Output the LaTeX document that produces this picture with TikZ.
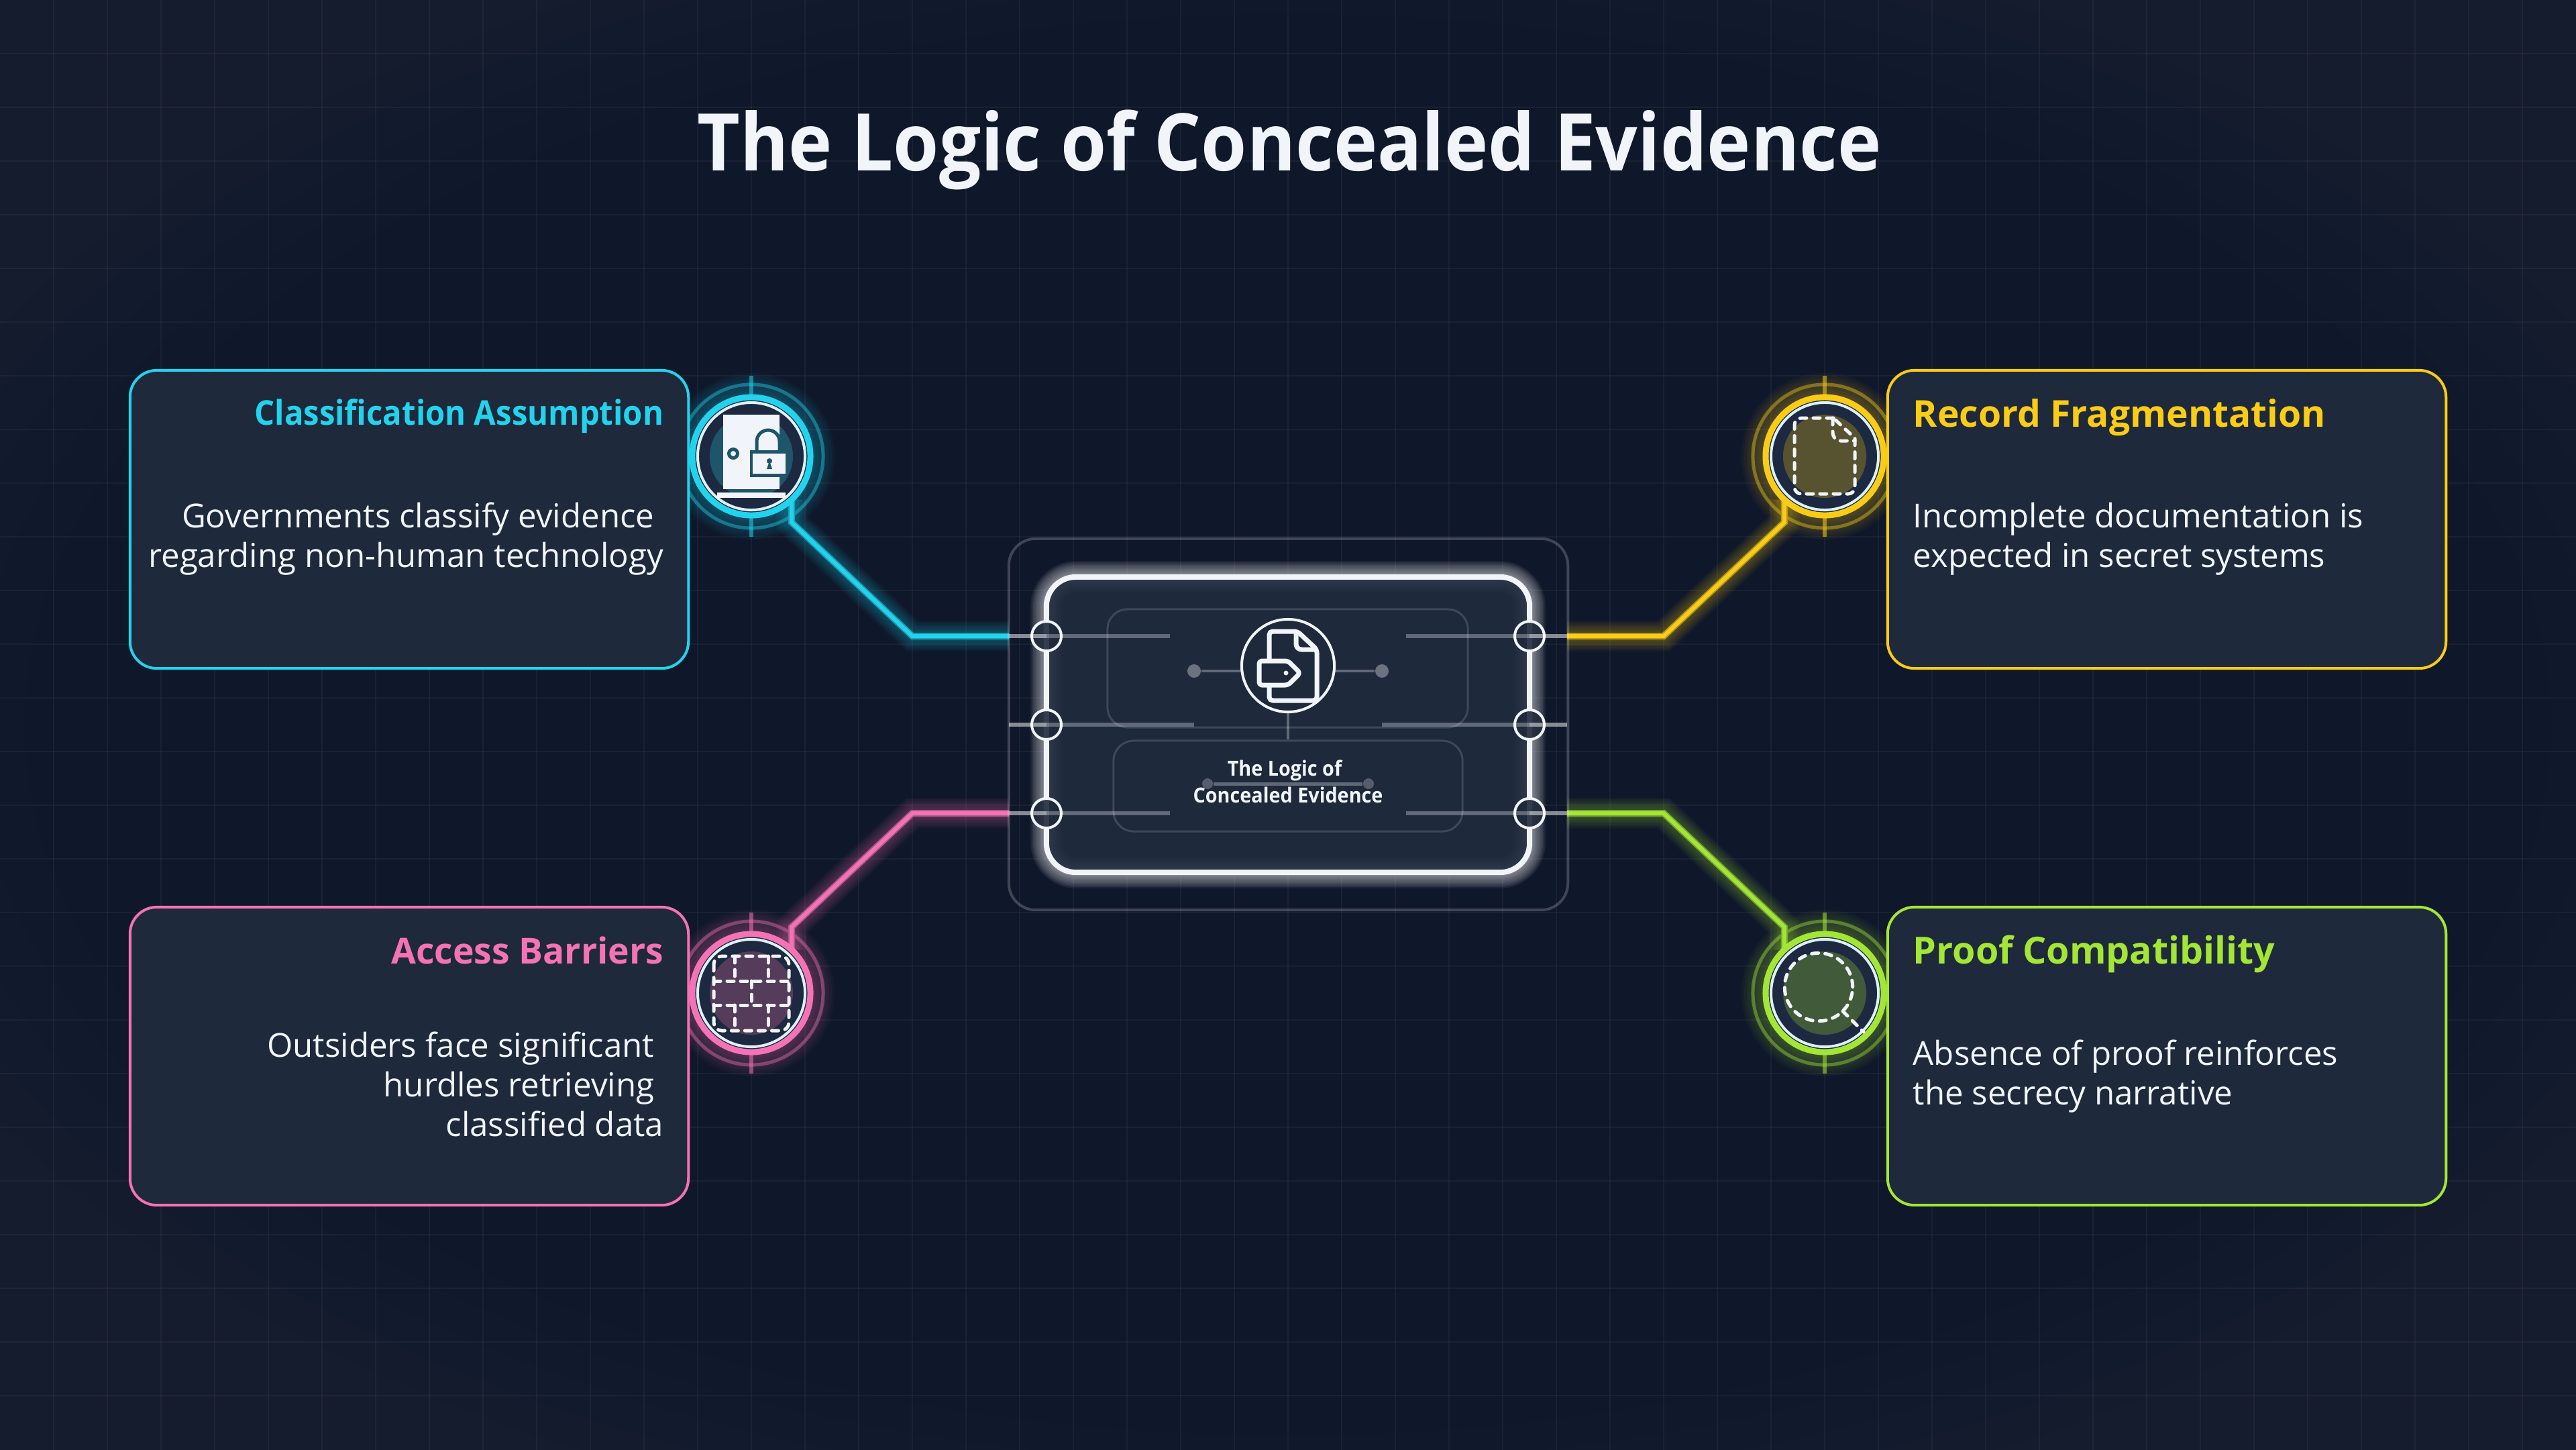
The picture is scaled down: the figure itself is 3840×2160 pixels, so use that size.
\documentclass[tikz,border=0pt]{standalone}
\usepackage{fontspec}
\setmainfont{Open Sans}
\newfontfamily\headfont{Open Sans}[FakeStretch=0.93]
\usetikzlibrary{calc, positioning}

\definecolor{pagebg}{HTML}{0F172A}
\definecolor{cornerbg}{HTML}{1E2536}
\definecolor{panelbg}{HTML}{1E293B}
\definecolor{ringbg}{HTML}{1C2940}
\definecolor{paper}{HTML}{F1F5F9}
\definecolor{cyanline}{HTML}{22D3EE}
\definecolor{goldline}{HTML}{FACC15}
\definecolor{pinkline}{HTML}{F472B6}
\definecolor{limeline}{HTML}{A3E635}

\pgfdeclarelayer{back}
\pgfdeclarelayer{wire}
\pgfsetlayers{back,wire,main}

\tikzset{
    card/.style={draw=#1, line width=0.04cm, fill=panelbg, rounded corners=0.4cm, minimum width=8.32cm, minimum height=4.44cm, inner sep=0pt, outer sep=0pt},
    cardhead/.style={text=#1, inner sep=0pt},
    cardtext/.style={text=paper, font=\fontsize{14}{16.8}\selectfont, inner sep=0pt},
    ringnode/.style={circle, draw=#1, line width=0.09cm, fill=ringbg, minimum size=1.76cm, inner sep=0pt, outer sep=0pt},
    portnode/.style={circle, draw=paper, fill=panelbg, fill opacity=0.9, line width=0.04cm, minimum size=0.44cm, inner sep=0pt, outer sep=0pt},
    feed/.style={draw=#1, line width=0.1cm, line join=miter},
    traceline/.style={draw=white, line width=0.06cm},
    dashicon/.style={draw=paper, line width=0.05cm, line cap=round, dash pattern=on 0.1cm off 0.1cm},
    softline/.style={draw=white, opacity=0.3, line width=0.04cm}
}

\newcommand{\halo}[2]{
    \begin{pgfonlayer}{back}
        \foreach \r in {0.92,0.96,...,1.26} {
            \fill[#1, opacity=0.04] (#2) circle[radius=\r cm];
        }
        \draw[#1, opacity=0.42, line width=0.05cm] (#2) circle[radius=1.07cm];
        \draw[#1, opacity=0.55, line width=0.06cm] ($(#2)+(0,-120)$) -- ($(#2)+(0,-92)$);
        \draw[#1, opacity=0.55, line width=0.06cm] ($(#2)+(0,92)$) -- ($(#2)+(0,120)$);
    \end{pgfonlayer}
}

\newcommand{\feedglow}[2]{
    \begin{pgfonlayer}{wire}
        \foreach \w in {0.14,0.18,...,0.46} {
            \draw[#1, opacity=0.035, line width=\w cm] #2;
        }
        \draw[feed=#1!70!pagebg] #2;
        \draw[#1, line width=0.06cm] #2;
    \end{pgfonlayer}
}

\begin{document}
\begin{tikzpicture}[x=0.01cm, y=-0.01cm]
        \useasboundingbox (0,0) rectangle (3840,2160);
        \begin{pgfonlayer}{back}
            \fill[pagebg] (-10,-10) rectangle (3850,2170);
            % the corners lighten step by step
            \foreach \s in {0.98,1.02,...,1.40} {
                \fill[cornerbg, opacity=0.11, even odd rule] (-10,-10) rectangle (3850,2170) (1920,1080) ellipse[x radius=19.2*\s cm, y radius=10.8*\s cm];
            }
            \foreach \x in {80, 160, ..., 3760} {
                \draw[white, opacity=0.045, line width=0.015cm] (\x,-10) -- (\x,2170);
            }
            \foreach \y in {80, 160, ..., 2080} {
                \draw[white, opacity=0.045, line width=0.015cm] (-10,\y) -- (3850,\y);
            }
        \end{pgfonlayer}

        \node[text=paper, font=\fontsize{33.7}{40}\headfont\bfseries, inner sep=0pt, anchor=base] (headline) at (1922,254) {The Logic of Concealed Evidence};

        \coordinate (iconA) at (1120,680);
        \coordinate (iconB) at (2720,680);
        \coordinate (iconC) at (1120,1480);
        \coordinate (iconD) at (2720,1480);
        \halo{cyanline}{iconA}
        \halo{goldline}{iconB}
        \halo{pinkline}{iconC}
        \halo{limeline}{iconD}

        \node[ringnode=cyanline] (ringA) at (iconA) {};
        \node[ringnode=goldline] (ringB) at (iconB) {};
        \node[ringnode=pinkline] (ringC) at (iconC) {};
        \node[ringnode=limeline] (ringD) at (iconD) {};
        \foreach \n/\c in {A/cyanline, B/goldline, C/pinkline, D/limeline} {
            \draw[paper!90!cyanline, line width=0.04cm] (icon\n) circle[radius=0.8cm];
            \fill[\c!26!panelbg] (icon\n) circle[radius=0.62cm];
        }

        % door and padlock
        \fill[paper] (1078,618) rectangle (1162,729);
        \fill[paper] (1069,734) rectangle (1171,742);
        \draw[cyanline!26!panelbg, line width=0.05cm, fill=paper] (1093,676) circle[radius=0.065cm];
        \draw[cyanline!26!panelbg, line width=0.05cm] (1128,680) -- (1128,658) arc[start angle=180, end angle=0, radius=0.17cm] -- (1162,680);
        \fill[cyanline!26!panelbg] (1118,671) rectangle (1171,711);
        \fill[paper] (1122,676) rectangle (1171,706);
        \fill[cyanline!26!panelbg] (1147,687) circle[radius=0.04cm];
        \fill[cyanline!26!panelbg] (1147,687) -- (1151,699) -- (1143,699) -- cycle;

        % dashed page
        \draw[dashicon] (2733,623) -- (2685,623) [rounded corners=0.1cm] -- (2675,623) -- (2675,736) -- (2765,736) [sharp corners] -- (2765,653) -- (2733,623);
        \draw[dashicon] (2732,623) [rounded corners=0.12cm] -- (2732,657) [sharp corners] -- (2765,657);

        % dashed wall
        \draw[dashicon, rounded corners=0.12cm] (1064,1425) rectangle (1176,1536);
        \draw[dashicon] (1064,1462) -- (1176,1462);
        \draw[dashicon] (1064,1498) -- (1176,1498);
        \foreach \x in {1095,1145} {
            \draw[dashicon] (\x,1425) -- (\x,1462);
            \draw[dashicon] (\x,1498) -- (\x,1536);
        }
        \draw[dashicon] (1120,1462) -- (1120,1498);

        % dashed lens
        \draw[dashicon] (2711,1471) circle[radius=0.507cm];
        \draw[dashicon] (2747,1507) -- (2778,1538);

        \node[card=cyanline] (cardA) at (610,774) {};
        \node[card=goldline] (cardB) at (3230,774) {};
        \node[card=pinkline] (cardC) at (610,1574) {};
        \node[card=limeline] (cardD) at (3230,1574) {};

        \node[cardhead=cyanline, font=\fontsize{14.45}{17}\headfont\bfseries, anchor=base east] (headA) at (990,633) {Classification Assumption};
        \node[cardhead=goldline, font=\fontsize{15.7}{18}\selectfont\bfseries, anchor=base west] (headB) at (2851,636) {Record Fragmentation};
        \node[cardhead=pinkline, font=\fontsize{15.2}{18}\selectfont\bfseries, anchor=base east] (headC) at (990,1436) {Access Barriers};
        \node[cardhead=limeline, font=\fontsize{15.8}{18}\selectfont\bfseries, anchor=base west] (headD) at (2851,1436) {Proof Compatibility};

        \node[cardtext, align=right, anchor=north east] (textA) at (990,748) {Governments classify evidence\rule{0.14cm}{0pt}\\regarding non-human technology};
        \node[cardtext, align=left, anchor=north west] (textB) at (2851,748) {Incomplete documentation is\\expected in secret systems};
        \node[cardtext, align=right, anchor=north east] (textC) at (990,1537) {Outsiders face significant\rule{0.14cm}{0pt}\\hurdles retrieving\rule{0.14cm}{0pt}\\classified data};
        \node[cardtext, align=left, anchor=north west] (textD) at (2851,1549) {Absence of proof reinforces\\the secrecy narrative};

        \begin{pgfonlayer}{back}
            \foreach \w in {0.12,0.16,...,0.52} {
                \draw[white, opacity=0.055, line width=\w cm, rounded corners=0.44cm] (1560,860) rectangle (2280,1300);
            }
        \end{pgfonlayer}
        \node[draw=white, draw opacity=0.2, line width=0.04cm, rounded corners=0.4cm, minimum width=8.33cm, minimum height=5.53cm, inner sep=0pt, outer sep=0pt] (shell) at (1920.5,1079.5) {};
        \node[draw=paper, fill=panelbg, line width=0.08cm, rounded corners=0.44cm, minimum width=7.2cm, minimum height=4.4cm, inner sep=0pt, outer sep=0pt] (board) at (1920,1080) {};
        \foreach \w in {0.1,0.16,...,0.46} {
            \draw[white, opacity=0.012, line width=\w cm, rounded corners=0.44cm] (board.north west) rectangle (board.south east);
        }
        \node[draw=white, draw opacity=0.15, line width=0.03cm, rounded corners=0.3cm, minimum width=5.37cm, minimum height=1.76cm, inner sep=0pt] (upperpanel) at (1919.5,996) {};
        \node[draw=white, draw opacity=0.15, line width=0.03cm, rounded corners=0.3cm, minimum width=5.2cm, minimum height=1.35cm, inner sep=0pt] (lowerpanel) at (1920,1171.5) {};

        \node[circle, draw=paper, line width=0.04cm, minimum size=1.38cm, inner sep=0pt, outer sep=0pt] (hub) at (1920,992) {};
        \node[circle, fill=white, fill opacity=0.35, minimum size=0.2cm, inner sep=0pt] (dotL) at (1780,1000) {};
        \node[circle, fill=white, fill opacity=0.35, minimum size=0.2cm, inner sep=0pt] (dotR) at (2060,1000) {};
        \node[circle, fill=white, fill opacity=0.25, minimum size=0.16cm, inner sep=0pt] (dotP) at (1800,1168) {};
        \node[circle, fill=white, fill opacity=0.25, minimum size=0.16cm, inner sep=0pt] (dotQ) at (2040,1168) {};
        \draw[softline] (dotL) -- (dotL -| hub.west);
        \draw[softline] (dotR) -- (dotR -| hub.east);
        \draw[softline] (hub.south) -- (lowerpanel.north);
        \draw[softline, line width=0.05cm] (dotP) -- (dotQ);

        % page with tag
        \draw[paper, line width=0.07cm, line join=round, rounded corners=0.05cm] (1892,985) -- (1892,941) -- (1934,941) -- (1963,968) -- (1963,1044) -- (1892,1044) -- (1892,1021);
        \draw[paper, line width=0.07cm, line join=round, rounded corners=0.08cm] (1932,941) -- (1932,968) -- (1963,968);
        \draw[paper, line width=0.07cm, line join=round, rounded corners=0.04cm] (1877,985) -- (1920,985) -- (1938,1003) -- (1920,1021) -- (1877,1021) -- cycle;
        \fill[paper] (1917,1003) circle[radius=0.035cm];

        \node[text=paper, font=\fontsize{8.8}{11.4}\headfont\bfseries, align=center, inner sep=0pt] (boardlabel) at (1920,1165) {The Logic of\rule{0.1cm}{0pt}\\Concealed Evidence};

        \foreach \n/\x/\y in {a/1560/948, b/1560/1080, c/1560/1212, d/2280/948, e/2280/1080, f/2280/1212} {
            \node[portnode] (port\n) at (\x,\y) {};
        }
        \coordinate (jointa) at (1504,948);
        \coordinate (jointb) at (1504,1080);
        \coordinate (jointc) at (1504,1212);
        \coordinate (jointd) at (2336,948);
        \coordinate (jointe) at (2336,1080);
        \coordinate (jointf) at (2336,1212);
        \foreach \n/\l in {a/1744, b/1780, c/1744, d/2096, e/2060, f/2096} {
            \draw[traceline, opacity=0.5] (joint\n) -- (port\n.center);
            \draw[traceline, opacity=0.3] (port\n.center) -- (\l,0 |- port\n.center);
        }

        \feedglow{cyanline}{(ringA.-47) -- ++(0,34) -- (1360,948) -- (jointa)}
        \feedglow{goldline}{(ringB.-133) -- ++(0,34) -- (2480,948) -- (jointd)}
        \feedglow{pinkline}{(ringC.47) -- ++(0,-34) -- (1360,1212) -- (jointc)}
        \feedglow{limeline}{(ringD.133) -- ++(0,-34) -- (2480,1212) -- (jointf)}
    \end{tikzpicture}
\end{document}
